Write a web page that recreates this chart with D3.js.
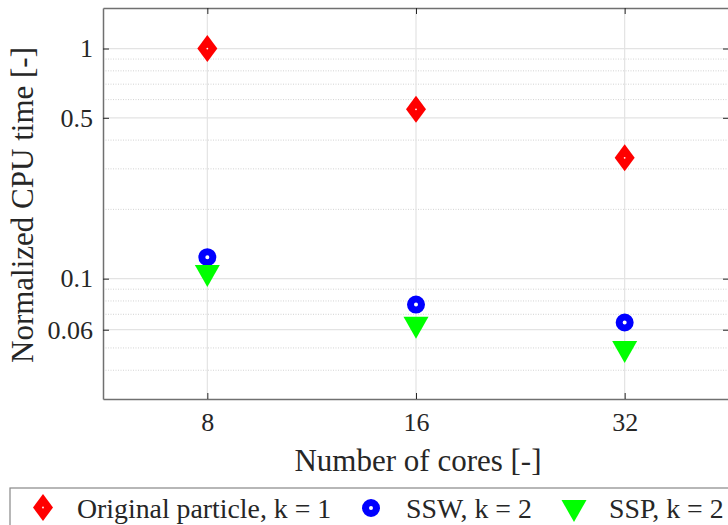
<!DOCTYPE html>
<html>
<head>
<meta charset="utf-8">
<script src="https://cdn.jsdelivr.net/npm/d3@7"></script>
<style>
  html, body { margin: 0; padding: 0; background: #fff; }
  svg { display: block; }
  text { font-family: "Liberation Serif", "Times New Roman", "DejaVu Serif", serif; fill: #262626; }
</style>
</head>
<body>
<svg id="chart" width="728" height="525"></svg>
<script>
// ---- data ----
const cores = [8, 16, 32];
const originalParticle = [1.0, 0.544, 0.335];
const ssw = [0.124, 0.0772, 0.0645];
const ssp = [0.1026, 0.0612, 0.048];
const yMajorTicks = [0.06, 0.1, 0.5, 1];
const yTickLabels = ["0.06", "0.1", "0.5", "1"];
const yMinorTicks = [0.04, 0.05, 0.07, 0.08, 0.09, 0.2, 0.3, 0.4, 0.6, 0.7, 0.8, 0.9];
const seriesNames = ["Original particle, k = 1", "SSW, k = 2", "SSP, k = 2"];

// ---- layout ----
const svg = d3.select("#chart");
const L = 103, R = 729, T = 8, B = 399;

const x = d3.scaleLog().base(2).domain([8 / Math.SQRT2, 32 * Math.SQRT2]).range([L, R]);
const y = d3.scaleLog().domain([0.03, 1.5]).range([B, T]);

// grid
const g = svg.append("g");
g.selectAll(".minor").data(yMinorTicks).join("line")
  .attr("x1", L).attr("x2", R)
  .attr("y1", d => y(d)).attr("y2", d => y(d))
  .attr("stroke", "#c8c8c8").attr("stroke-width", 0.8)
  .attr("stroke-dasharray", "1,1.5");
g.selectAll(".major").data(yMajorTicks).join("line")
  .attr("x1", L).attr("x2", R)
  .attr("y1", d => y(d)).attr("y2", d => y(d))
  .attr("stroke", "#e3e3e3").attr("stroke-width", 1.2);
g.selectAll(".vgrid").data(cores).join("line")
  .attr("x1", d => x(d)).attr("x2", d => x(d))
  .attr("y1", T).attr("y2", B)
  .attr("stroke", "#e3e3e3").attr("stroke-width", 1.2);

// axes
const xAxis = d3.axisBottom(x).tickValues(cores).tickFormat(d3.format("d")).tickSizeInner(-6).tickSizeOuter(0).tickPadding(14);
const xAxisTop = d3.axisTop(x).tickValues(cores).tickFormat("").tickSizeInner(-6).tickSizeOuter(0);
const yAxis = d3.axisLeft(y).tickValues(yMajorTicks).tickFormat((d, i) => yTickLabels[i]).tickSizeInner(-6).tickSizeOuter(0).tickPadding(10);
const yAxisRight = d3.axisRight(y).tickValues(yMajorTicks).tickFormat("").tickSizeInner(-6).tickSizeOuter(0);

function style(sel) {
  sel.attr("font-family", null);
  sel.select(".domain").attr("stroke", "#707070").attr("stroke-width", 1.5);
  sel.selectAll(".tick line").attr("stroke", "#262626").attr("stroke-width", 1);
  sel.selectAll(".tick text").attr("font-size", 26).attr("fill", "#262626");
}
svg.append("g").attr("transform", `translate(0,${B})`).call(xAxis).call(style);
svg.append("g").attr("transform", `translate(0,${T})`).call(xAxisTop).call(style);
svg.append("g").attr("transform", `translate(${L},0)`).call(yAxis).call(style);
svg.append("g").attr("transform", `translate(${R},0)`).call(yAxisRight).call(style);

// axis labels
svg.append("text").attr("x", (L + R) / 2 + 2).attr("y", 471)
  .attr("text-anchor", "middle").attr("font-size", 31).text("Number of cores [-]");
svg.append("text").attr("transform", `translate(33,205) rotate(-90)`)
  .attr("text-anchor", "middle").attr("font-size", 31).text("Normalized CPU time [-]");

// markers
const diamond = "M0,-13.5L10,0L0,13.5L-10,0Z";
const tri = "M-12.5,-11L12.5,-11L0,11Z";

function drawDiamond(sel) {
  sel.append("path").attr("d", diamond).attr("fill", "#ff0000");
  sel.append("circle").attr("r", 0.9).attr("fill", "#fff");
}
function drawCircle(sel) {
  sel.append("circle").attr("r", 5.5).attr("fill", "#fff").attr("stroke", "#0000ff").attr("stroke-width", 7);
}
function drawTri(sel) {
  sel.append("path").attr("d", tri).attr("fill", "#00ff00");
}

const mk = svg.append("g");
mk.selectAll(".op").data(cores.map((c, i) => [c, originalParticle[i]])).join("g")
  .attr("transform", d => `translate(${x(d[0])},${y(d[1])})`).call(drawDiamond);
mk.selectAll(".ssw").data(cores.map((c, i) => [c, ssw[i]])).join("g")
  .attr("transform", d => `translate(${x(d[0])},${y(d[1])})`).call(drawCircle);
mk.selectAll(".ssp").data(cores.map((c, i) => [c, ssp[i]])).join("g")
  .attr("transform", d => `translate(${x(d[0])},${y(d[1])})`).call(drawTri);

// legend
const leg = svg.append("g");
leg.append("rect").attr("x", 10).attr("y", 488).attr("width", 740).attr("height", 60)
  .attr("fill", "#fff").attr("stroke", "#888").attr("stroke-width", 1.2);
const items = [
  { name: seriesNames[0], mx: 43, my: 507.5, tx: 77, draw: drawDiamond },
  { name: seriesNames[1], mx: 371, my: 508, tx: 406, draw: drawCircle },
  { name: seriesNames[2], mx: 574, my: 511, tx: 609, draw: drawTri }
];
items.forEach(it => {
  leg.append("g").attr("transform", `translate(${it.mx},${it.my})`).call(it.draw);
  leg.append("text").attr("x", it.tx).attr("y", 518).attr("font-size", 27.8).text(it.name);
});
</script>
</body>
</html>
